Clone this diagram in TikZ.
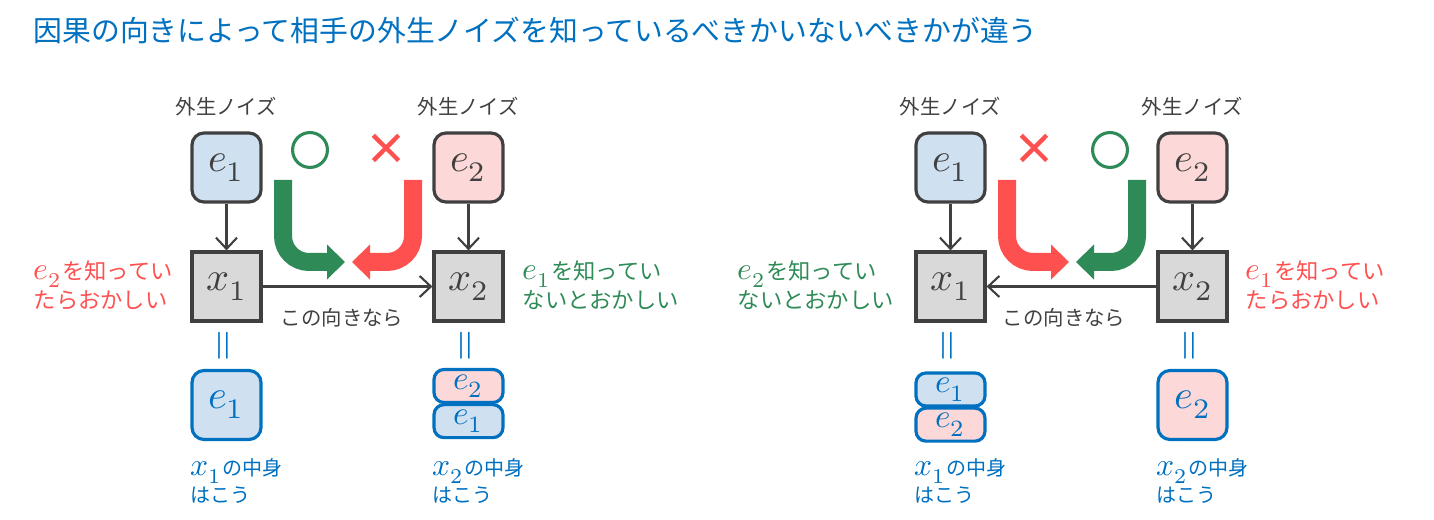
\documentclass[tikz,border=0pt]{standalone}
\usepackage{fontspec}
\usepackage{unicode-math}
\setmathfont{Latin Modern Math}
\usepackage{xcolor}
\usepackage{tikz}
\usetikzlibrary{arrows.meta}
\usetikzlibrary{positioning}
\newfontfamily\jpfont{Noto Sans CJK JP}
\newfontfamily\verdictfont[FakeBold=4]{Noto Sans CJK JP}
\newcommand{\mv}[1]{{\fontsize{9}{9}\selectfont$#1$}}

\definecolor{mblue}{RGB}{0,112,192}
\definecolor{boxgray}{RGB}{64,64,64}
\definecolor{obsgray}{RGB}{217,217,217}
\definecolor{efill}{RGB}{207,224,241}
\definecolor{ffill}{RGB}{253,216,216}
\definecolor{okgreen}{RGB}{46,139,87}
\definecolor{ngred}{RGB}{255,80,80}

\tikzset{
	noise/.style={draw=boxgray,line width=0.9pt,rounded corners=0.12cm,minimum size=0.69cm,inner sep=0pt,text=boxgray,font=\fontsize{11.5}{11}\selectfont},
	obs/.style={draw=boxgray,fill=obsgray,line width=0.9pt,minimum size=0.69cm,inner sep=0pt,text=boxgray,font=\fontsize{11.5}{11}\selectfont},
	inside/.style={draw=mblue,line width=0.9pt,rounded corners=0.12cm,minimum size=0.69cm,inner sep=0pt,text=mblue,font=\fontsize{11.5}{11}\selectfont},
	half/.style={draw=mblue,line width=0.9pt,rounded corners=0.1cm,minimum width=0.69cm,minimum height=0.33cm,inner sep=0pt,text=mblue,font=\fontsize{9.5}{9}\selectfont},
	link/.style={-{Straight Barb[length=3.2pt,width=6pt]},line width=0.6pt,draw=boxgray},
	bigarrow/.style={line width=0.18cm,rounded corners=0.26cm,-{Triangle[length=0.18cm,width=0.34cm]}},
	lbl/.style={font=\jpfont\fontsize{5.8}{7}\selectfont,text=boxgray,inner sep=0pt},
	side/.style={font=\jpfont\fontsize{6.35}{8.25}\selectfont,align=left,inner sep=0pt,anchor=west},
	note/.style={font=\jpfont\fontsize{5.7}{7.7}\selectfont,align=left,inner sep=0pt,anchor=west,text=mblue},
	verdict/.style={font=\verdictfont\fontsize{11.5}{11}\selectfont,inner sep=0pt},
	same/.style={rotate=90,text=mblue,font=\fontsize{11.5}{11}\selectfont,inner sep=0pt}
}

\begin{document}
\begin{tikzpicture}
	\useasboundingbox (0,0) rectangle (14.34,-5.20);
	\node[anchor=west,font=\jpfont\fontsize{8.2}{10}\selectfont,text=mblue,inner sep=0pt] (title) at (0.33,-0.30) {因果の向きによって相手の外生ノイズを知っているべきかいないべきかが違う};

	% left: x1 -> x2
	\node[lbl] (nz1L) at (2.265,-1.07) {外生ノイズ};
	\node[lbl] (nz2L) at (4.685,-1.07) {外生ノイズ};
	\node[noise,fill=efill] (e1L) at (2.265,-1.675) {$e_1$};
	\node[noise,fill=ffill] (e2L) at (4.685,-1.675) {$e_2$};
	\node[obs] (x1L) at (2.265,-2.865) {$x_1$};
	\node[obs] (x2L) at (4.685,-2.865) {$x_2$};
	\draw[link] (e1L) -- (x1L);
	\draw[link] (e2L) -- (x2L);
	\draw[link] (x1L) -- (x2L);
	\node[lbl] (dirL) at (3.42,-3.18) {この向きなら};
	\node[verdict,text=okgreen] (okL) at (3.10,-1.50) {○};
	\node[verdict,text=ngred] (ngL) at (3.86,-1.49) {×};
	\coordinate (gtopL) at (2.83,-1.80);
	\coordinate (gtipL) at (3.45,-2.62);
	\coordinate (rtopL) at (4.13,-1.80);
	\coordinate (rtipL) at (3.52,-2.62);
	\draw[bigarrow,okgreen] (gtopL) |- (gtipL);
	\draw[bigarrow,ngred] (rtopL) |- (rtipL);
	\node[side,text=ngred] (badL) at (0.33,-2.855) {\mv{e_2}を知ってい\\たらおかしい};
	\node[side,text=okgreen] (goodL) at (5.22,-2.855) {\mv{e_1}を知ってい\\ないとおかしい};
	\node[same] (eq1L) at (2.265,-3.46) {$=$};
	\node[same] (eq2L) at (4.685,-3.46) {$=$};
	\node[inside,fill=efill] (c1L) at (2.265,-4.05) {$e_1$};
	\node[half,fill=ffill] (c2aL) at (4.685,-3.86) {$e_2$};
	\node[half,fill=efill,below=-0.01cm of c2aL] (c2bL) {$e_1$};
	\node[note] (n1L) at (1.90,-4.815) {\mv{x_1}の中身\\はこう};
	\node[note] (n2L) at (4.32,-4.815) {\mv{x_2}の中身\\はこう};

	% right: x2 -> x1
	\node[lbl] (nz1R) at (9.505,-1.07) {外生ノイズ};
	\node[lbl] (nz2R) at (11.925,-1.07) {外生ノイズ};
	\node[noise,fill=efill] (e1R) at (9.505,-1.675) {$e_1$};
	\node[noise,fill=ffill] (e2R) at (11.925,-1.675) {$e_2$};
	\node[obs] (x1R) at (9.505,-2.865) {$x_1$};
	\node[obs] (x2R) at (11.925,-2.865) {$x_2$};
	\draw[link] (e1R) -- (x1R);
	\draw[link] (e2R) -- (x2R);
	\draw[link] (x2R) -- (x1R);
	\node[lbl] (dirR) at (10.64,-3.18) {この向きなら};
	\node[verdict,text=ngred] (ngR) at (10.34,-1.49) {×};
	\node[verdict,text=okgreen] (okR) at (11.10,-1.50) {○};
	\coordinate (rtopR) at (10.07,-1.80);
	\coordinate (rtipR) at (10.69,-2.62);
	\coordinate (gtopR) at (11.37,-1.80);
	\coordinate (gtipR) at (10.76,-2.62);
	\draw[bigarrow,ngred] (rtopR) |- (rtipR);
	\draw[bigarrow,okgreen] (gtopR) |- (gtipR);
	\node[side,text=okgreen] (goodR) at (7.37,-2.855) {\mv{e_2}を知ってい\\ないとおかしい};
	\node[side,text=ngred] (badR) at (12.45,-2.855) {\mv{e_1}を知ってい\\たらおかしい};
	\node[same] (eq1R) at (9.505,-3.46) {$=$};
	\node[same] (eq2R) at (11.925,-3.46) {$=$};
	\node[half,fill=efill] (c1aR) at (9.505,-3.895) {$e_1$};
	\node[half,fill=ffill,below=-0.01cm of c1aR] (c1bR) {$e_2$};
	\node[inside,fill=ffill] (c2R) at (11.925,-4.05) {$e_2$};
	\node[note] (n1R) at (9.14,-4.815) {\mv{x_1}の中身\\はこう};
	\node[note] (n2R) at (11.56,-4.815) {\mv{x_2}の中身\\はこう};
\end{tikzpicture}
\end{document}
